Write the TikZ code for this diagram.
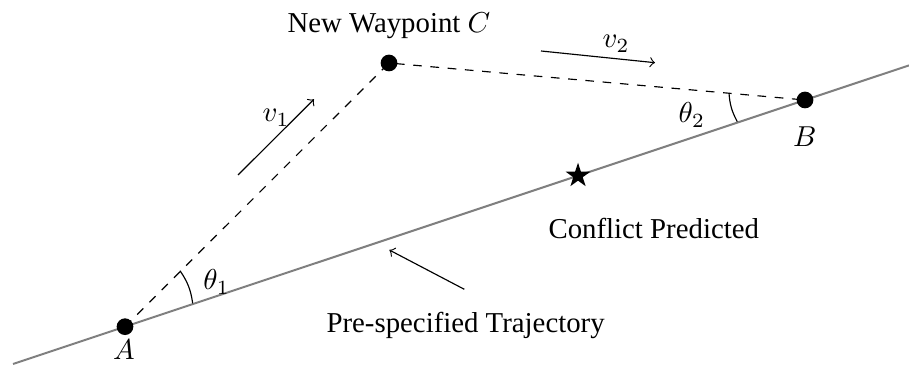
\documentclass[tikz,border=0pt]{standalone}
\usepackage{fontspec}
\setmainfont{Liberation Serif}
\usetikzlibrary{shapes.geometric}
\begin{document}
\begin{tikzpicture}[x=0.3472pt,y=-0.3472pt,
  dot/.style={circle,fill=black,inner sep=0pt,minimum size=5.8pt},
  traj/.style={draw=gray,line width=0.7pt},
  route/.style={draw=black,dashed,line width=0.4pt},
  pointer/.style={draw=black,->,line width=0.4pt},
  anglearc/.style={draw=black,line width=0.4pt},
  lbl/.style={inner sep=0pt,font=\fontsize{10}{12}\selectfont}]
\useasboundingbox (0,0) rectangle (909,365);
% trajectory
\coordinate (L1) at (13,364);
\coordinate (L2) at (909,65.4);
\draw[traj] (L1) -- (L2);
% waypoints
\node[dot] (A) at (125,326.7) {};
\node[dot] (B) at (805,100) {};
\node[dot] (C) at (389,63) {};
\draw[route] (A.center) -- (C.center) -- (B.center);
% conflict star
\node[star,star points=5,star point ratio=2.618,fill=black,inner sep=0pt,minimum size=9pt] (S) at (578,175.7) {};
% angle arcs
\coordinate (a1s) at (192.7,303.3);
\coordinate (a1e) at (180,270.7);
\draw[anglearc] (a1s) to[bend right=13] (a1e);
\coordinate (a2s) at (737.3,121.7);
\coordinate (a2e) at (729,93.3);
\draw[anglearc] (a2s) to[bend left=12] (a2e);
% velocity arrows
\coordinate (v1s) at (238,175);
\coordinate (v1e) at (314,99.3);
\draw[pointer] (v1s) -- (v1e);
\coordinate (v2s) at (541,51);
\coordinate (v2e) at (655,62.7);
\draw[pointer] (v2s) -- (v2e);
\coordinate (ts) at (464.3,289.3);
\coordinate (te) at (389.3,250);
\draw[pointer] (ts) -- (te);
% labels
\node[lbl,anchor=base west] (lC) at (287,33) {New Waypoint $C$};
\node[lbl,anchor=base] (lA) at (124,360) {$A$};
\node[lbl,anchor=base] (lB) at (804.7,147) {$B$};
\node[lbl,anchor=base west] (lt1) at (202.7,290) {$\theta_1$};
\node[lbl,anchor=base west] (lt2) at (678,123) {$\theta_2$};
\node[lbl,anchor=base west] (lv1) at (262,121.7) {$v_1$};
\node[lbl,anchor=base west] (lv2) at (602,47.7) {$v_2$};
\node[lbl,anchor=base west] (lconf) at (548,239) {Conflict Predicted};
\node[lbl,anchor=base west] (ltraj) at (326,333) {Pre-specified Trajectory};
\end{tikzpicture}
\end{document}
